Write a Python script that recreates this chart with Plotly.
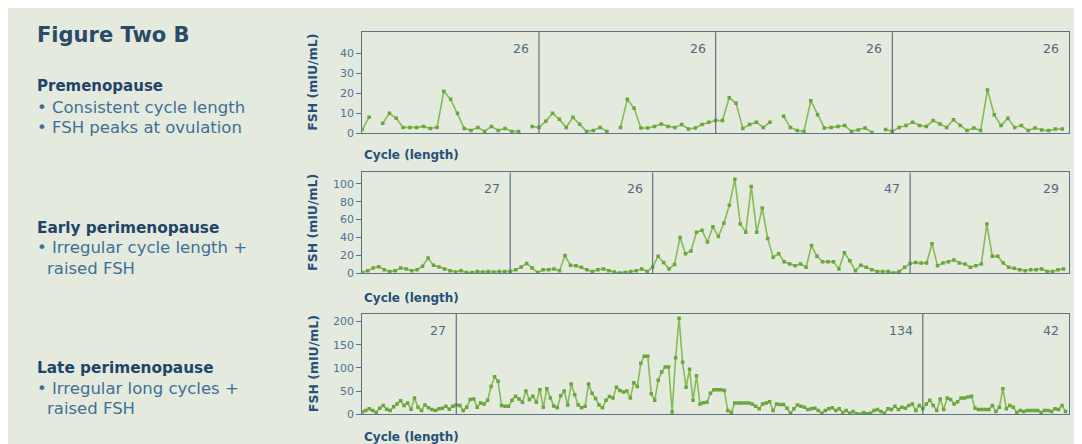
import plotly.graph_objects as go

W, H = 1082, 444
OFF = 8            # default body margin of the html page
VSCALE = 444 / 452  # page is 8px taller than the window on each side -> photo is squeezed vertically

# ---------------- data ----------------
pre_cycle_lengths = [26, 26, 26, 26]
pre_fsh = (
    [2, 8, None, 5, 10, 7.5, 3, 3, 3, 3.5, 2.5, 3, 21, 17, 10, 2.5, 1.5, 3, 1, 3.5, 1.5, 2.5, 1, 1, None, 3.5]
    + [3, 6, 10, 7, 3, 8, 4.5, 1, 1.5, 3, 1, None, 3, 17, 12.5, 2.7, 2.7, 3.4, 4.7, 3.4, 3, 4.4, 2.2, 2.7, 4.4, 5.6]
    + [6.4, 6.4, 17.8, 15, 2.5, 4.4, 5.6, 3, 5.6, None, 8.5, 3, 1.4, 1, 16.3, 9.3, 2.7, 3, 3.4, 3.9, 1, 1.7, 2.7, 0.5, None, 1.9]
    + [1, 3, 3.9, 5.6, 3.9, 3.4, 6.4, 4.7, 3, 6.8, 3.9, 1.4, 2.7, 1.4, 21.7, 9.3, 3.9, 7.6, 3, 3.9, 1.4, 2.7, 1.7, 1.4, 2.2, 2.2]
)

early_cycle_lengths = [27, 26, 47, 29]
early_fsh = (
    [1, 3, 6, 7.5, 4, 2, 3, 6, 5, 3, 4, 8, 17, 9, 7, 5, 3, 1.5, 3, 1, 1, 2, 1.5, 2, 1.5, 2, 2]
    + [2, 4, 7, 11, 6, 1, 4, 4, 5, 3, 20, 9, 8.6, 6.7, 4, 2, 4, 5, 3, 1.5, 0.5, 1, 2, 3, 5, 2]
    + [7, 19, 12, 5, 10, 40, 22, 25, 46, 48, 35, 52, 41, 56, 76, 105, 55, 46, 97, 46, 73, 39, 18, 22,
       13, 10.5, 8.6, 10.5, 6.7, 31, 19, 13, 13, 13, 5, 23, 14, 3, 9, 6.7, 4, 2, 2, 2, 0.5, 2, 6.7]
    + [11, 12, 11.5, 11.5, 33, 8.6, 11.5, 13, 15, 11.5, 10.5, 6.7, 8.6, 10.5, 55, 19, 19, 11.5, 6.7,
       5.6, 4, 3, 4, 4, 5, 2, 2, 4, 5]
)

late_cycle_lengths = [27, 134, 42]
late_fsh = (
    [5, 8, 12, 8, 4, 13, 19, 11, 8, 16, 22, 29, 19, 24, 11, 35, 15, 8, 20, 14, 10, 8, 12, 13, 17, 11, 17]
    + [20, 19, 8, 15, 32, 33, 15, 24, 22, 30,
       60, 81, 71, 19, 17, 17, 30, 39, 33, 26,
       50, 32, 39, 26, 53, 15, 55, 35, 18, 14,
       40, 50, 20, 65, 42, 20, 14, 17, 65, 45,
       34, 20, 14, 30, 38, 35, 58, 51, 48, 50,
       35, 68, 60, 110, 125, 125, 44, 30, 73, 91,
       102, 102, 5, 122, 207, 112, 58, 97, 30, 83,
       22, 25, 26, 45, 53, 53, 53, 51, 8, 4,
       24, 24, 24, 24, 24, 22, 17, 12, 22, 24,
       27, 8, 22, 21, 21, 13, 2, 12, 20, 17,
       15, 10, 12, 13, 8, 2, 8, 12, 14, 8,
       12, 4, 8, 2, 6, 1, 0, 4, 1, 2,
       8, 10, 6, 2, 12, 10, 17, 10, 15, 13,
       19, 22, 8, 19]
    + [12, 22, 30, 19, 8, 33, 10, 35, 32, 22, 27, 35, 35, 37, 39, 13, 10, 10, 10, 10, 19, 6, 15, 55,
       12, 19, 15, 4, 8, 6, 8, 8, 8, 8, 4, 8, 8, 6, 12, 10, 19, 6]
)

pre_ticks = [0, 10, 20, 30, 40]
early_ticks = [0, 20, 40, 60, 80, 100]
late_ticks = [0, 50, 100, 150, 200]

panels = [
    dict(lengths=pre_cycle_lengths, fsh=pre_fsh, ticks=pre_ticks, ymax=50.5, top=32, bottom=133, cyc_y=155),
    dict(lengths=early_cycle_lengths, fsh=early_fsh, ticks=early_ticks, ymax=112.6, top=172, bottom=272.7, cyc_y=297),
    dict(lengths=late_cycle_lengths, fsh=late_fsh, ticks=late_ticks, ymax=216, top=313.3, bottom=413.3, cyc_y=436),
]

left_text = [
    ("<b>Figure Two B</b>", 35, 35, 21, "#2a4a66"),
    ("<b>Premenopause</b>", 35, 86, 15, "#1f4468"),
    ("• Consistent cycle length", 35, 107, 16.5, "#3f6f97"),
    ("• FSH peaks at ovulation", 35, 127, 16.5, "#3f6f97"),
    ("<b>Early perimenopause</b>", 35, 227, 15.3, "#1f4468"),
    ("• Irregular cycle length +", 35, 247, 16.5, "#3f6f97"),
    ("raised FSH", 45, 268, 16.5, "#3f6f97"),
    ("<b>Late perimenopause</b>", 35, 367, 15.3, "#1f4468"),
    ("• Irregular long cycles +", 35, 388, 16.5, "#3f6f97"),
    ("raised FSH", 45, 408, 16.5, "#3f6f97"),
]

# ---------------- style ----------------
FONT = "DejaVu Sans"
BG = "#e4eadd"
FRAME = "#5d7282"
LINE_GREEN = "#86bb55"
MARK_GREEN = "#6aa53d"
TICK_COL = "#4a7397"
TITLE_COL = "#24507a"
CYC_COL = "#4f6b82"

PLOT_L, PLOT_R = 362.3, 1069.0


def fx(px):
    return (px - OFF) / W


def fy(py):
    return 1 - (py / VSCALE - OFF) / H


fig = go.Figure()
shapes = []
annotations = []

for i, p in enumerate(panels, start=1):
    xa = "x" if i == 1 else f"x{i}"
    ya = "y" if i == 1 else f"y{i}"
    total = sum(p["lengths"])
    xs = list(range(len(p["fsh"])))
    fig.add_trace(go.Scatter(
        x=xs, y=p["fsh"], xaxis=xa, yaxis=ya, mode="lines+markers",
        line=dict(color=LINE_GREEN, width=1.6),
        marker=dict(symbol="square", size=3.5, color=MARK_GREEN),
        connectgaps=False, showlegend=False, hoverinfo="skip",
    ))
    xkey = "xaxis" if i == 1 else f"xaxis{i}"
    ykey = "yaxis" if i == 1 else f"yaxis{i}"
    fig.update_layout(**{
        xkey: dict(domain=[fx(PLOT_L), fx(PLOT_R)], anchor=ya, range=[0, total],
                   showticklabels=False, ticks="", showgrid=False, zeroline=False,
                   showline=True, mirror=True, linecolor=FRAME, linewidth=1.2),
        ykey: dict(domain=[fy(p["bottom"]), fy(p["top"])], anchor=xa, range=[0, p["ymax"]],
                   tickvals=p["ticks"], ticks="outside", ticklen=5, tickcolor=FRAME, tickwidth=1,
                   tickfont=dict(family=FONT, size=11, color=TICK_COL),
                   showgrid=False, zeroline=False,
                   showline=True, mirror=True, linecolor=FRAME, linewidth=1.2),
    })
    # cycle dividers and cycle-length labels
    cum = 0
    for L in p["lengths"]:
        cum += L
        if cum < total:
            shapes.append(dict(type="line", xref=xa, yref=f"{ya} domain", x0=cum, x1=cum, y0=0, y1=1,
                               line=dict(color=FRAME, width=1.2)))
        annotations.append(dict(text=str(L), xref=xa, yref=f"{ya} domain", x=cum, y=1,
                                xanchor="right", yanchor="top", xshift=-8, yshift=-7, showarrow=False,
                                font=dict(family=FONT, size=12.5, color=CYC_COL)))
    # y-axis title
    annotations.append(dict(text="<b>FSH (mIU/mL)</b>", xref="paper", yref="paper",
                            x=fx(313), y=fy((p["top"] + p["bottom"]) / 2), textangle=-90,
                            xanchor="center", yanchor="middle", showarrow=False,
                            font=dict(family=FONT, size=12.5, color=TITLE_COL)))
    annotations.append(dict(text="<b>Cycle (length)</b>", xref="paper", yref="paper",
                            x=fx(362), y=fy(p["cyc_y"]), xanchor="left", yanchor="middle",
                            showarrow=False, font=dict(family=FONT, size=12, color=TITLE_COL)))

for text, x, y, size, col in left_text:
    annotations.append(dict(text=text, xref="paper", yref="paper", x=fx(x), y=fy(y),
                            xanchor="left", yanchor="middle", showarrow=False,
                            font=dict(family=FONT, size=size, color=col)))

fig.update_layout(
    width=W, height=H, autosize=False,
    margin=dict(l=0, r=0, t=0, b=0),
    paper_bgcolor=BG, plot_bgcolor=BG,
    shapes=shapes, annotations=annotations,
)

fig.write_html("out.html")
